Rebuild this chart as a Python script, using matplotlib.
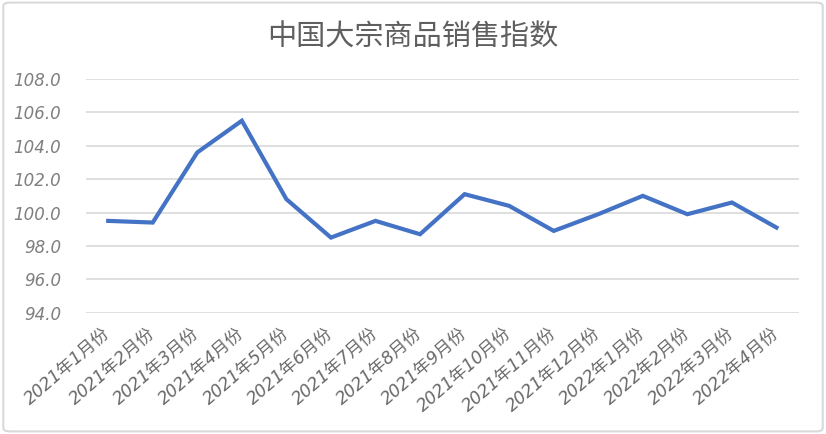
import matplotlib.pyplot as plt
from matplotlib.patches import FancyBboxPatch

months = ['2021年1月份', '2021年2月份', '2021年3月份', '2021年4月份', '2021年5月份',
          '2021年6月份', '2021年7月份', '2021年8月份', '2021年9月份', '2021年10月份',
          '2021年11月份', '2021年12月份', '2022年1月份', '2022年2月份', '2022年3月份',
          '2022年4月份']
index = [99.5, 99.4, 103.6, 105.5, 100.8, 98.5, 99.5, 98.7, 101.1, 100.4,
         98.9, 99.9, 101.0, 99.9, 100.6, 99.1]
yticks = [94, 96, 98, 100, 102, 104, 106, 108]

plt.rcParams['font.family'] = ['Noto Sans CJK SC', 'DejaVu Sans']

fig = plt.figure(figsize=(8.26, 4.34), dpi=100)
ax = fig.add_axes([0.104, 0.2795, 0.863, 0.5385])

# outer frame like the excel chart area
frame = FancyBboxPatch((0.004, 0.006), 0.992, 0.988, boxstyle='round,pad=0,rounding_size=0.008',
                       transform=fig.transFigure, facecolor='none', edgecolor='#D9D9D9',
                       linewidth=1.5, zorder=0)
fig.patches.append(frame)

x = list(range(len(months)))
ax.plot(x, index, color='#4472C4', linewidth=3, solid_joinstyle='miter', zorder=3)

ax.set_xlim(-0.5, len(months) - 0.5)
ax.set_ylim(94, 108)
ax.set_yticks(yticks)
ax.set_yticklabels(['%.1f' % v for v in yticks], family='DejaVu Sans', style='oblique',
                   fontsize=12, color='#7F7F7F')
ax.set_xticks(x)
ax.set_xticklabels(months, rotation=41, ha='right', va='center', rotation_mode='anchor',
                   fontsize=12.5, color='#6A6A6A',
                   family=['DejaVu Sans', 'Noto Sans CJK SC'], style='oblique')
ax.tick_params(axis='both', length=0)
ax.tick_params(axis='y', pad=18)
ax.tick_params(axis='x', pad=13)
ax.grid(axis='y', color='#D9D9D9', linewidth=1.2)
ax.set_axisbelow(True)
for s in ax.spines.values():
    s.set_visible(False)

fig.text(0.5, 0.913, '中国大宗商品销售指数', ha='center', va='center', fontsize=21,
         color='#5F5F5F', fontweight='light')

fig.savefig('out.png', dpi=100)
